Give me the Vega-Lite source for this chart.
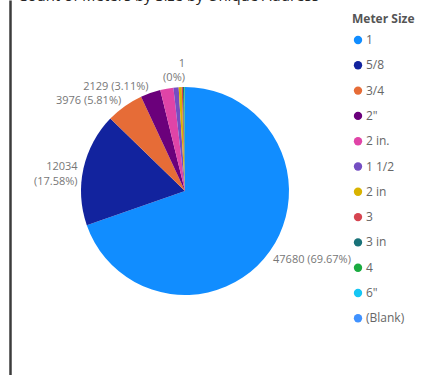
{
  "$schema": "https://vega.github.io/schema/vega-lite/v6.json",
  "autosize": "none",
  "width": 350,
  "height": 382,
  "padding": {"left": 10, "top": 0, "right": 76, "bottom": 0},
  "title": {
    "text": "Count of Meters by Size by Unique Address",
    "anchor": "start",
    "font": "Open Sans",
    "fontSize": 15,
    "fontWeight": "normal",
    "color": "#252423",
    "offset": 0,
    "dx": 8,
    "dy": 4
  },
  "config": {
    "view": {"stroke": null},
    "font": "Open Sans"
  },
  "data": {
    "values": [
      {"size": "1", "count": 47680, "label": ["47680 (69.67%)"]},
      {"size": "5/8", "count": 12034, "label": ["12034", "(17.58%)"]},
      {"size": "3/4", "count": 3976, "label": ["3976 (5.81%)"]},
      {"size": "2\"", "count": 2129, "label": ["2129 (3.11%)"]},
      {"size": "2 in.", "count": 1400, "label": [""]},
      {"size": "1 1/2", "count": 550, "label": [""]},
      {"size": "2 in", "count": 320, "label": [""]},
      {"size": "3", "count": 130, "label": [""]},
      {"size": "3 in", "count": 120, "label": [""]},
      {"size": "4", "count": 70, "label": [""]},
      {"size": "6\"", "count": 27, "label": [""]},
      {"size": "(Blank)", "count": 1, "label": ["1", "(0%)"]}
    ]
  },
  "layer": [
    {
      "mark": {"type": "point", "opacity": 0},
      "encoding": {
        "y": {
          "field": "count",
          "type": "quantitative",
          "axis": {"labels": false, "ticks": false, "grid": false, "title": null, "domainColor": "#3c3c3c", "domainWidth": 2.5}
        }
      }
    },
    {
      "mark": {"type": "arc", "outerRadius": 104},
      "encoding": {
        "theta": {"field": "count", "type": "quantitative", "stack": true},
        "order": {"field": "count", "sort": "descending"},
        "color": {
          "field": "size",
          "type": "nominal",
          "sort": null,
          "scale": {
            "domain": ["1", "5/8", "3/4", "2\"", "2 in.", "1 1/2", "2 in", "3", "3 in", "4", "6\"", "(Blank)"],
            "range": ["#118DFF", "#12239E", "#E66C37", "#6B007B", "#E044A7", "#744EC2", "#D9B300", "#D64550", "#197278", "#1AAB40", "#15C6F4", "#4092FF"]
          },
          "legend": {
            "title": "Meter Size",
            "orient": "none",
            "legendX": 342,
            "legendY": 14,
            "titleFont": "Open Sans",
            "titleFontSize": 12,
            "titleFontWeight": "bold",
            "titleColor": "#555555",
            "titlePadding": 8,
            "labelFont": "Open Sans",
            "labelFontSize": 12,
            "labelColor": "#666666",
            "labelOffset": 2,
            "symbolType": "circle",
            "symbolSize": 70,
            "symbolStrokeWidth": 0,
            "rowPadding": 13.3
          }
        }
      }
    },
    {
      "mark": {"type": "text", "radius": 110, "align": "right", "baseline": "middle", "fontSize": 11, "lineHeight": 15, "color": "#777777", "font": "Open Sans"},
      "encoding": {
        "theta": {"field": "count", "type": "quantitative", "stack": true},
        "order": {"field": "count", "sort": "descending"},
        "text": {"field": "label", "type": "nominal"},
        "opacity": {"condition": {"test": "datum.size !== '1' && datum.size !== '(Blank)'", "value": 1}, "value": 0}
      }
    },
    {
      "mark": {"type": "text", "radius": 122, "align": "right", "baseline": "bottom", "fontSize": 11, "lineHeight": 14, "color": "#777777", "font": "Open Sans"},
      "encoding": {
        "theta": {"field": "count", "type": "quantitative", "stack": true},
        "order": {"field": "count", "sort": "descending"},
        "text": {"field": "label", "type": "nominal"},
        "opacity": {"condition": {"test": "datum.size === '(Blank)'", "value": 1}, "value": 0}
      }
    },
    {
      "mark": {"type": "text", "radius": 108, "align": "left", "baseline": "top", "fontSize": 11, "color": "#777777", "font": "Open Sans"},
      "encoding": {
        "theta": {"field": "count", "type": "quantitative", "stack": true},
        "order": {"field": "count", "sort": "descending"},
        "text": {"field": "label", "type": "nominal"},
        "opacity": {"condition": {"test": "datum.size === '1'", "value": 1}, "value": 0}
      }
    }
  ]
}
